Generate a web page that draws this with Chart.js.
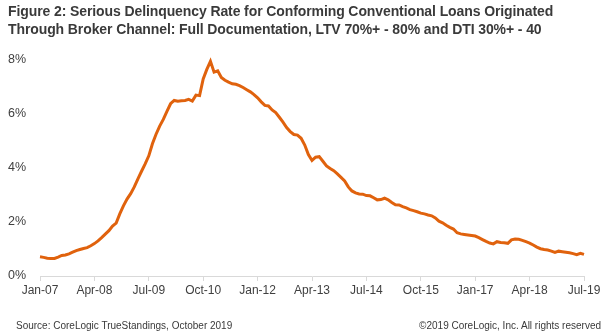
<!DOCTYPE html>
<html>
<head>
<meta charset="utf-8">
<script src="https://cdn.jsdelivr.net/npm/chart.js@4.4.0/dist/chart.umd.min.js"></script>
<style>
  html, body { margin: 0; padding: 0; background: #fff; }
  #wrap { position: relative; width: 610px; height: 336px; overflow: hidden; font-family: "Liberation Sans", Arial, sans-serif; }
  #chart { position: absolute; left: 0; top: 0; }
  .title { position: absolute; left: 8px; font-weight: bold; font-size: 14px; color: #3a3a3a; white-space: nowrap; letter-spacing: -0.1px; }
  .foot { position: absolute; top: 320px; font-size: 10px; color: #3a3a3a; white-space: nowrap; }
</style>
</head>
<body>
<div id="wrap">
  <canvas id="chart" width="610" height="336"></canvas>
  <div class="title" style="top:3px">Figure 2: Serious Delinquency Rate for Conforming Conventional Loans Originated</div>
  <div class="title" style="top:21px">Through Broker Channel: Full Documentation, LTV 70%+ - 80% and DTI 30%+ - 40</div>
  <div class="foot" style="left:16px">Source: CoreLogic TrueStandings, October 2019</div>
  <div class="foot" style="right:9px">©2019 CoreLogic, Inc. All rights reserved</div>
</div>
<script>
// Monthly serious delinquency rate (%), Jan 2007 through Jul 2019
const monthNames = ['Jan','Feb','Mar','Apr','May','Jun','Jul','Aug','Sep','Oct','Nov','Dec'];
const startYear = 2007;
const rate = [
  0.71, 0.69, 0.66, 0.65, 0.65, 0.70, 0.76, 0.78, 0.82, 0.88, 0.94, 0.98,
  1.02, 1.05, 1.12, 1.20, 1.30, 1.42, 1.55, 1.68, 1.85, 1.96, 2.30, 2.60,
  2.85, 3.05, 3.30, 3.60, 3.88, 4.15, 4.45, 4.90, 5.25, 5.55, 5.80, 6.10,
  6.38, 6.50, 6.47, 6.49, 6.50, 6.54, 6.48, 6.70, 6.68, 7.30, 7.65, 7.95,
  7.55, 7.60, 7.35, 7.25, 7.18, 7.12, 7.10, 7.05, 6.98, 6.90, 6.82, 6.72,
  6.60, 6.45, 6.32, 6.30, 6.15, 6.05, 5.88, 5.70, 5.50, 5.35, 5.24, 5.22,
  5.10, 4.85, 4.50, 4.28, 4.40, 4.42, 4.25, 4.08, 3.98, 3.90, 3.78, 3.65,
  3.52, 3.30, 3.15, 3.08, 3.04, 3.03, 2.98, 2.97, 2.90, 2.82, 2.83, 2.88,
  2.82, 2.72, 2.64, 2.63, 2.57, 2.52, 2.46, 2.42, 2.38, 2.33, 2.30, 2.26,
  2.23, 2.15, 2.03, 1.97, 1.88, 1.80, 1.74, 1.60, 1.56, 1.54, 1.52, 1.50,
  1.48, 1.42, 1.35, 1.28, 1.22, 1.19, 1.27, 1.24, 1.23, 1.21, 1.34, 1.37,
  1.36, 1.32, 1.27, 1.22, 1.15, 1.07, 1.01, 0.98, 0.96, 0.92, 0.87, 0.92,
  0.90, 0.88, 0.86, 0.83, 0.79, 0.84, 0.80
];
const yTicks = [0, 2, 4, 6, 8];
const labelEvery = 15;

const months = rate.map((_, i) => {
  const y = startYear + Math.floor(i / 12);
  return monthNames[i % 12] + '-' + String(y % 100).padStart(2, '0');
});

new Chart(document.getElementById('chart'), {
  type: 'line',
  data: {
    labels: months,
    datasets: [{
      data: rate,
      borderColor: '#e0620d',
      borderWidth: 3,
      pointRadius: 0,
      tension: 0,
      fill: false,
      clip: false
    }]
  },
  options: {
    responsive: false,
    animation: false,
    layout: { padding: { left: 0, right: 26, top: 60, bottom: 34 } },
    plugins: { legend: { display: false }, tooltip: { enabled: false }, title: { display: false } },
    scales: {
      x: {
        type: 'category',
        offset: false,
        grid: {
          drawOnChartArea: false,
          tickLength: 5,
          color: (c) => (c.index % labelEvery === 0 ? '#d9d9d9' : 'rgba(0,0,0,0)')
        },
        border: { color: '#d9d9d9', width: 1 },
        ticks: {
          autoSkip: false,
          maxRotation: 0,
          minRotation: 0,
          padding: 2,
          color: '#404040',
          font: { family: '"Liberation Sans", Arial, sans-serif', size: 12 },
          callback: function (v, i) { return i % labelEvery === 0 ? this.getLabelForValue(v) : ''; }
        },
        afterFit: (s) => { s.height = 26; }
      },
      y: {
        min: 0,
        max: 8,
        afterBuildTicks: (s) => { s.ticks = yTicks.map(v => ({ value: v })); },
        grid: { display: false },
        border: { display: false },
        ticks: {
          padding: 6,
          color: '#404040',
          font: { family: '"Liberation Sans", Arial, sans-serif', size: 12.5 },
          callback: (v) => v + '%'
        },
        afterFit: (s) => { s.width = 40; }
      }
    }
  }
});
</script>
</body>
</html>
